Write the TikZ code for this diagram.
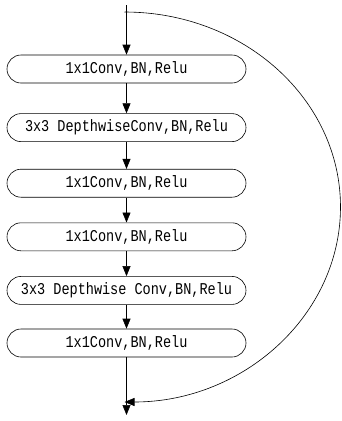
\documentclass[tikz,border=0pt]{standalone}
\usepackage{fontspec}
\setmonofont[FakeStretch=0.82]{Liberation Mono}
\usetikzlibrary{positioning, arrows.meta, shapes.misc}

\begin{document}
\begin{tikzpicture}[
        x=1pt, y=1pt,
        node distance=26pt,
        layer/.style={rounded rectangle, draw=black, line width=0.6pt, minimum width=239pt, minimum height=28pt, inner sep=0pt, font=\ttfamily\fontsize{16.5pt}{18pt}\selectfont},
        arrow/.style={-{Triangle[length=10pt, width=8pt]}, line width=0.6pt}
    ]

    % page frame
    \useasboundingbox (0,0) rectangle (341,-421);

    % Layers stacked top to bottom
    \node[layer] (l1) at (126.5,-69) {1x1Conv,BN,Relu};
    \node[layer, below=30pt of l1] (l2) {3x3 DepthwiseConv,BN,Relu};
    \node[layer, below=27pt of l2] (l3) {1x1Conv,BN,Relu};
    \node[layer, below=25pt of l3] (l4) {1x1Conv,BN,Relu};
    \node[layer, below=25pt of l4] (l5) {3x3 Depthwise Conv,BN,Relu};
    \node[layer, below=24pt of l5] (l6) {1x1Conv,BN,Relu};

    % Input and output ends
    \coordinate (in) at (126.5,-5);
    \coordinate (split) at (124.5,-12);
    \coordinate (out) at (126.5,-415);

    % Main path
    \draw[arrow] (in) -- (l1.north);
    \draw[arrow] (l1.south) -- (l2.north);
    \draw[arrow] (l2.south) -- (l3.north);
    \draw[arrow] (l3.south) -- (l4.north);
    \draw[arrow] (l4.south) -- (l5.north);
    \draw[arrow] (l5.south) -- (l6.north);
    \draw[arrow] (l6.south) -- (out);

    % Shortcut
    \draw[arrow] (split) arc[start angle=90, end angle=-90, x radius=216pt, y radius=195pt];

\end{tikzpicture}
\end{document}
